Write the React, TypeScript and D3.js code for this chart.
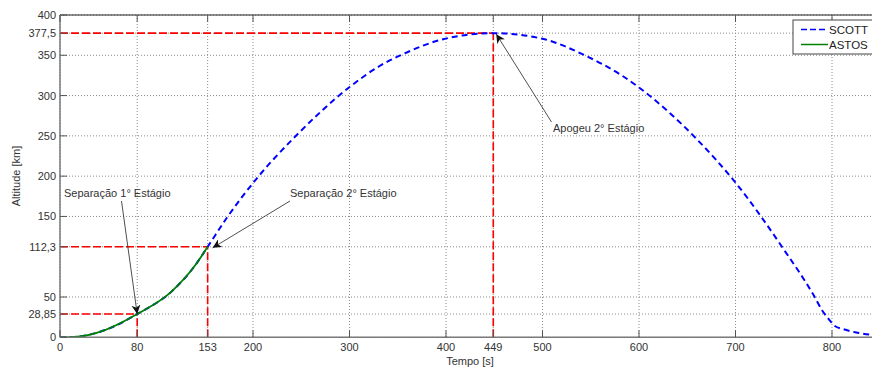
import React from "react";
import * as d3 from "d3";

// Trajectory samples (time in s, altitude in km)
const scottTime = [0, 15.5, 46.6, 80, 115.8, 139.9, 153, 172.7, 203.8, 245.3, 300.5, 331.6, 359.3, 397.2, 449, 500, 543.7, 582.1, 600, 659.8, 700, 749.5, 780.6, 790, 797, 803, 812, 825, 842];
const scottAlt = [0, 0.5, 9, 28.85, 57, 89, 112.3, 148, 197, 251, 311, 337, 353.5, 370, 377.5, 370.5, 350, 325, 310, 246, 192, 110, 53, 33, 22, 14, 10, 6, 3];
const astosTime = [0, 15.5, 46.6, 80, 115.8, 139.9, 153];
const astosAlt = [0, 0.5, 9, 28.85, 57, 89, 112.3];

const xTicks = [0, 80, 153, 200, 300, 400, 449, 500, 600, 700, 800];
const yTicks = [0, 28.85, 50, 112.3, 150, 200, 250, 300, 350, 377.5, 400];

// Marked events: time, altitude
const markTime = [80, 153, 449];
const markAlt = [28.85, 112.3, 377.5];

const legendNames = ["SCOTT", "ASTOS"];

const W = 872;
const H = 369;
const FONT = "'Liberation Sans', Arial, Helvetica, sans-serif";

export default function App() {
  const x = d3.scaleLinear().domain([0, 850]).range([60, 60 + 0.965 * 850]);
  const y = d3.scaleLinear().domain([0, 400]).range([337.3, 15]);
  const fmt = (v: number) => String(v).replace(".", ",");

  const line = d3
    .line<[number, number]>()
    .x((d) => x(d[0]))
    .y((d) => y(d[1]))
    .curve(d3.curveMonotoneX);

  const scott = scottTime.map((t, i) => [t, scottAlt[i]] as [number, number]);
  const astos = astosTime.map((t, i) => [t, astosAlt[i]] as [number, number]);

  const left = x(0);
  const right = W;
  const top = y(400);
  const bottom = y(0);

  const annotations = [
    { text: "Separação 1° Estágio", tx: 64, ty: 197, from: [121.5, 201], t: 80, a: 28.85 },
    { text: "Separação 2° Estágio", tx: 290, ty: 197, from: [290, 201], t: 153, a: 112.3, dx: 5, dy: 1 },
    { text: "Apogeu 2° Estágio", tx: 553, ty: 132, from: [551.5, 122], t: 449, a: 377.5, dx: 3, dy: 1 },
  ];

  return (
    <svg
      width={W}
      height={H}
      style={{ position: "absolute", left: 0, top: 0, background: "#fff", fontFamily: FONT }}
    >
      <defs>
        <clipPath id="plot-clip">
          <rect x={left} y={top} width={right - left} height={bottom - top} />
        </clipPath>
        <marker id="arrow-head" viewBox="0 0 10 10" refX="10" refY="5" markerWidth="9" markerHeight="9" markerUnits="userSpaceOnUse" orient="auto">
          <path d="M0,0 L10,5 L0,10 L3,5 Z" fill="#111" />
        </marker>
      </defs>
      <rect x={0} y={0} width={W} height={H} fill="#fff" />

      {/* grid */}
      <g stroke="#8c8c8c" strokeWidth={1} strokeDasharray="1,2">
        {xTicks.map((t) => (
          <line key={"gx" + t} x1={x(t)} x2={x(t)} y1={top} y2={bottom} />
        ))}
        {yTicks.map((v) => (
          <line key={"gy" + v} x1={left} x2={right} y1={y(v)} y2={y(v)} />
        ))}
      </g>

      {/* event reference lines */}
      <g stroke="#ff0000" strokeWidth={1.6} strokeDasharray="8,3" fill="none">
        {markTime.map((t, i) => (
          <g key={"m" + t}>
            <line x1={left} x2={x(t)} y1={y(markAlt[i])} y2={y(markAlt[i])} />
            <line x1={x(t)} x2={x(t)} y1={bottom} y2={y(markAlt[i])} />
          </g>
        ))}
      </g>

      {/* series */}
      <g clipPath="url(#plot-clip)" fill="none">
        <path d={line(scott) ?? ""} stroke="#0000ff" strokeWidth={2} strokeDasharray="6,4" />
        <path d={line(astos) ?? ""} stroke="#008000" strokeWidth={1.8} />
      </g>

      {/* axes */}
      <g>
        <line x1={left} x2={right} y1={top} y2={top} stroke="#222" strokeWidth={1} />
        <line x1={left} x2={right} y1={bottom} y2={bottom} stroke="#7a7a7a" strokeWidth={1.5} />
        <line x1={left} x2={left} y1={top} y2={bottom} stroke="#7a7a7a" strokeWidth={1.5} />
        {xTicks.map((t) => (
          <g key={"tx" + t} stroke="#555" strokeWidth={1}>
            <line x1={x(t)} x2={x(t)} y1={bottom} y2={bottom - 7} />
            <line x1={x(t)} x2={x(t)} y1={top} y2={top + 7} />
          </g>
        ))}
        {yTicks.map((v) => (
          <line key={"ty" + v} x1={left} x2={left + 7} y1={y(v)} y2={y(v)} stroke="#555" strokeWidth={1} />
        ))}
        {xTicks.map((t) => (
          <text key={"lx" + t} x={x(t)} y={351} textAnchor="middle" fontSize={11} fill="#333">
            {fmt(t)}
          </text>
        ))}
        {yTicks.map((v) => (
          <text key={"ly" + v} x={56} y={y(v) + 4} textAnchor="end" fontSize={11} fill="#333">
            {fmt(v)}
          </text>
        ))}
        <text x={470} y={365} textAnchor="middle" fontSize={11} fill="#333">
          Tempo [s]
        </text>
        <text transform={`translate(20,176) rotate(-90)`} textAnchor="middle" fontSize={11} fill="#333">
          Altitude [km]
        </text>
      </g>

      {/* annotations */}
      <g>
        {annotations.map((a) => (
          <g key={a.text}>
            <line
              x1={a.from[0]}
              y1={a.from[1]}
              x2={x(a.t) + (a.dx ?? 0)}
              y2={y(a.a) + (a.dy ?? 0)}
              stroke="#222"
              strokeWidth={0.8}
              markerEnd="url(#arrow-head)"
            />
            <text x={a.tx} y={a.ty} fontSize={11} fill="#333">
              {a.text}
            </text>
          </g>
        ))}
      </g>

      {/* legend */}
      <g>
        <rect x={793} y={20} width={100} height={34} fill="#fff" stroke="#444" strokeWidth={1} />
        {legendNames.map((n, i) => (
          <g key={n}>
            <line
              x1={801}
              x2={828}
              y1={29.5 + i * 15}
              y2={29.5 + i * 15}
              stroke={i === 0 ? "#0000ff" : "#008000"}
              strokeWidth={1.5}
              strokeDasharray={i === 0 ? "6,3" : undefined}
            />
            <text x={829} y={33.5 + i * 15} fontSize={11.5} fill="#222">
              {n}
            </text>
          </g>
        ))}
      </g>
    </svg>
  );
}
